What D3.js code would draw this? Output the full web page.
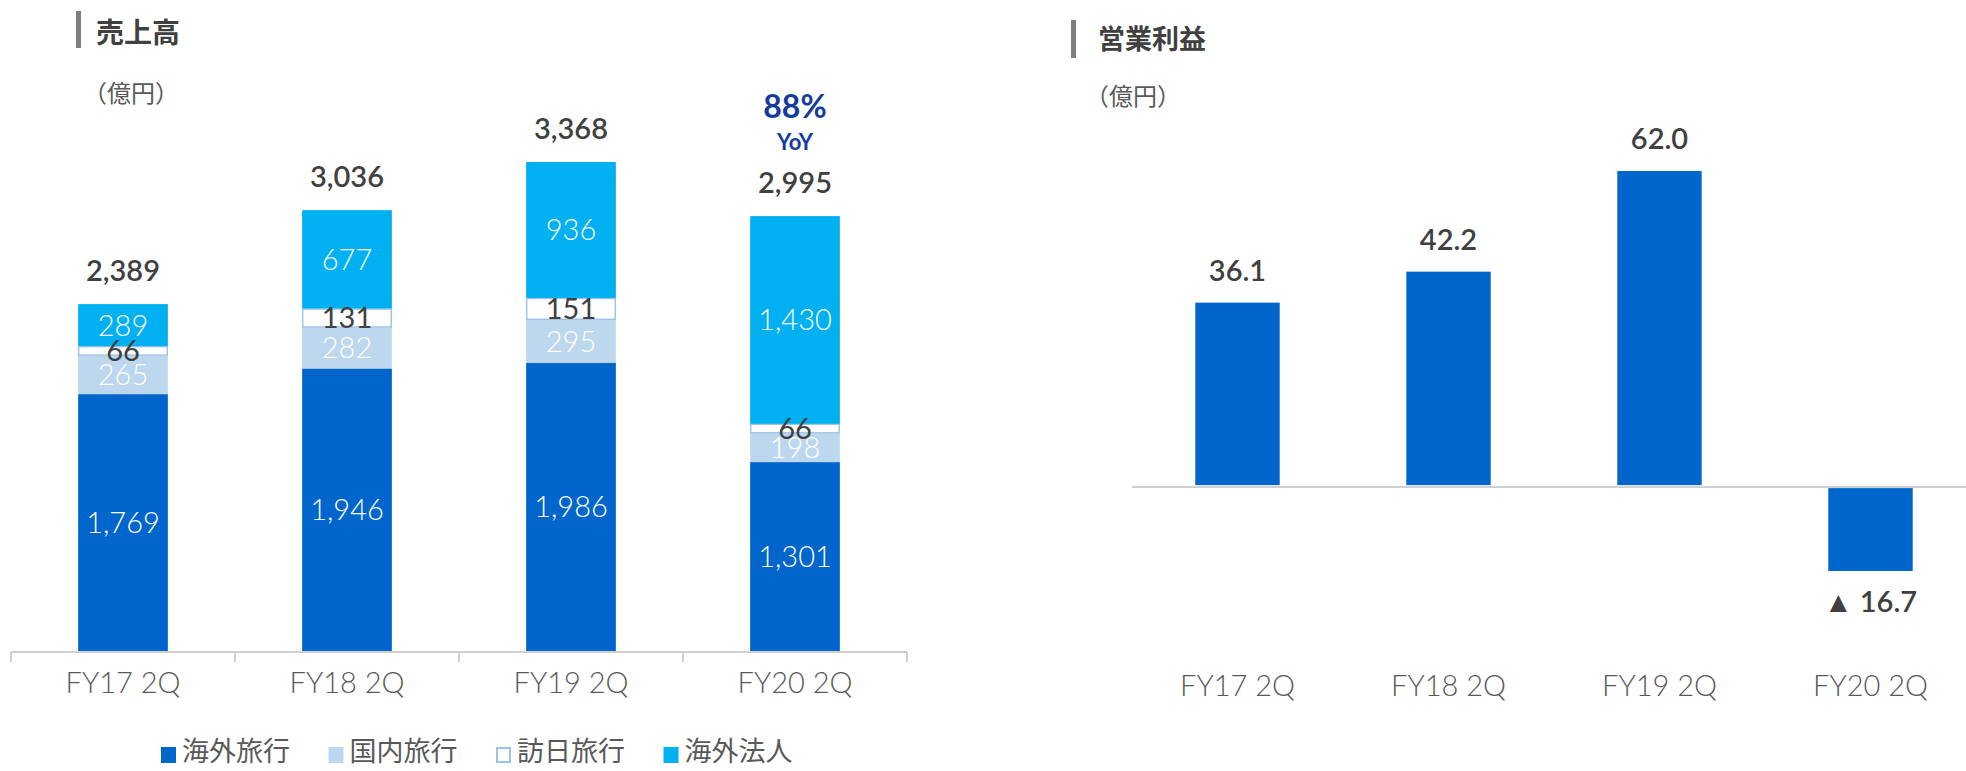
<!DOCTYPE html>
<html><head><meta charset="utf-8">
<script src="https://cdn.jsdelivr.net/npm/d3@7"></script>
<style>
html,body{margin:0;padding:0;background:#fff;}
svg{display:block;}
</style></head>
<body>
<svg id="chart" width="1966" height="771"></svg>
<script>
const categories = ["FY17 2Q","FY18 2Q","FY19 2Q","FY20 2Q"];
const seriesNames = ["海外旅行","国内旅行","訪日旅行","海外法人"];
const overseasTravel = [1769,1946,1986,1301];
const domesticTravel = [265,282,295,198];
const inboundTravel = [66,131,151,66];
const overseasCorp = [289,677,936,1430];
const salesTotals = [2389,3036,3368,2995];
const operatingProfit = [36.1,42.2,62.0,-16.7];
const yoyLabel = ["88%","YoY"];
const unitLabel = "（億円）";
const titles = ["売上高","営業利益"];

const svg = d3.select("#chart");
const LATIN = "Lato, 'Noto Sans', sans-serif";
const CJK = "'Noto Sans CJK JP', 'Noto Sans', sans-serif";
const colors = ["#0066CC","#BDD7EE","#FFFFFF","#00B0F0"];
const strokes = ["#0066CC","#BDD7EE","#9DC3E6","#00B0F0"];
const labelColors = ["#FFFFFF","#FFFFFF","#404040","#FFFFFF"];

// ---------- Titles ----------
function title(xBar, yTop, yBot, xText, yBase, txt, fs){
  svg.append("rect").attr("x",xBar).attr("y",yTop).attr("width",5).attr("height",yBot-yTop).attr("fill","#7F7F7F");
  svg.append("text").attr("x",xText).attr("y",yBase).text(txt)
    .attr("font-family",CJK).attr("font-weight",700).attr("font-size",fs).attr("fill","#404040");
}
title(76,11,48,96,43,titles[0],28);
title(1071,20,58,1098,49,titles[1],27);
svg.append("text").attr("x",83).attr("y",102).text(unitLabel)
  .attr("font-family",CJK).attr("font-size",24).attr("fill","#595959");
svg.append("text").attr("x",1085).attr("y",105).text(unitLabel)
  .attr("font-family",CJK).attr("font-size",24).attr("fill","#595959");

// ---------- Left: stacked sales ----------
const x1 = d3.scaleBand().domain(categories).range([11,907]).paddingInner(0.6).paddingOuter(0.3);
const y1 = d3.scaleLinear().domain([0,3368]).range([651,162]);
const rows = categories.map((c,i)=>({cat:c, 0:overseasTravel[i],1:domesticTravel[i],2:inboundTravel[i],3:overseasCorp[i]}));
const stack = d3.stack().keys([0,1,2,3])(rows);

const gL = svg.append("g");
stack.forEach((layer,k)=>{
  gL.selectAll(null).data(layer).enter().append("rect")
    .attr("x",d=>x1(d.data.cat)+0.5)
    .attr("width",x1.bandwidth()-1)
    .attr("y",d=>y1(d[1])+0.5)
    .attr("height",d=>y1(d[0])-y1(d[1])-1)
    .attr("fill",colors[k])
    .attr("stroke",strokes[k]).attr("stroke-width",k===2?1.5:1);
});
stack.forEach((layer,k)=>{
  gL.selectAll(null).data(layer).enter().append("text")
    .attr("x",d=>x1(d.data.cat)+x1.bandwidth()/2)
    .attr("y",d=>(y1(d[0])+y1(d[1]))/2)
    .attr("dy","0.36em")
    .attr("text-anchor","middle")
    .attr("font-family",LATIN).attr("font-weight",k===2?400:300).attr("font-size",29)
    .attr("fill",labelColors[k])
    .text(d=>d3.format(",")(d.data[k]));
});
// totals
gL.selectAll(null).data(categories).enter().append("text")
  .attr("x",c=>x1(c)+x1.bandwidth()/2)
  .attr("y",(c,i)=>y1(salesTotals[i])-23)
  .attr("text-anchor","middle")
  .attr("font-family",LATIN).attr("font-weight",600).attr("font-size",29).attr("fill","#404040")
  .text((c,i)=>d3.format(",")(salesTotals[i]));
// YoY annotation
const cx4 = x1(categories[3])+x1.bandwidth()/2;
svg.append("text").attr("x",cx4).attr("y",118).attr("text-anchor","middle")
  .attr("font-family",LATIN).attr("font-weight",700).attr("font-size",32).attr("fill","#143C9E").text(yoyLabel[0]);
svg.append("text").attr("x",cx4).attr("y",150).attr("text-anchor","middle")
  .attr("font-family",LATIN).attr("font-weight",700).attr("font-size",22).attr("fill","#143C9E").text(yoyLabel[1]);

// left axis
const axL = svg.append("g").attr("transform","translate(0,651)")
  .call(d3.axisBottom(x1).tickSize(0).tickPadding(0));
axL.select(".domain").remove();
axL.selectAll("text").attr("font-family",LATIN).attr("font-weight",300).attr("font-size",29).attr("fill","#595959")
  .attr("y",42).attr("dy",0);
svg.append("line").attr("x1",x1.range()[0]).attr("x2",x1.range()[1]).attr("y1",652).attr("y2",652)
  .attr("stroke","#D0D0D0").attr("stroke-width",2);
const bounds = categories.map(c=>x1(c)-x1.step()*0.3).concat([x1.range()[1]]);
svg.selectAll(null).data(bounds).enter().append("line")
  .attr("x1",d=>d).attr("x2",d=>d).attr("y1",652).attr("y2",662)
  .attr("stroke","#D0D0D0").attr("stroke-width",2);

// legend
const leg = svg.append("g");
seriesNames.forEach((n,k)=>{
  const lx = 161 + k*167.5;
  leg.append("rect").attr("x",lx+ (k===2?1:0)).attr("y",747+(k===2?1:0)).attr("width",k===2?13:15).attr("height",k===2?14:16)
    .attr("fill",colors[k]).attr("stroke",k===2?"#9DC3E6":"none").attr("stroke-width",2);
  leg.append("text").attr("x",lx+21).attr("y",761).text(n)
    .attr("font-family",CJK).attr("font-size",27).attr("fill","#595959");
});

// ---------- Right: operating profit ----------
const x2 = d3.scaleBand().domain(categories).range([1132,1976]).paddingInner(0.6).paddingOuter(0.3);
const y2 = d3.scaleLinear().domain([-16.7,62.0]).range([571,171]);
const gR = svg.append("g");
gR.selectAll(null).data(operatingProfit).enter().append("rect")
  .attr("x",(d,i)=>x2(categories[i]))
  .attr("width",x2.bandwidth())
  .attr("y",d=>d>=0?y2(d):y2(0)+2)
  .attr("height",d=>d>=0?y2(0)-y2(d)-1:y2(d)-y2(0)-2)
  .attr("fill","#0066CC");
svg.append("line").attr("x1",1132).attr("x2",1966).attr("y1",y2(0)+1).attr("y2",y2(0)+1)
  .attr("stroke","#D0D0D0").attr("stroke-width",2);
gR.selectAll(null).data(operatingProfit).enter().append("text")
  .attr("x",(d,i)=>x2(categories[i])+x2.bandwidth()/2)
  .attr("y",d=>d>=0?y2(d)-22:y2(d)+41)
  .attr("text-anchor","middle")
  .attr("font-family",LATIN).attr("font-weight",600).attr("font-size",29).attr("fill","#404040")
  .text(d=>d>=0?d3.format(".1f")(d):"▲ "+d3.format(".1f")(-d));
const axR = svg.append("g").attr("transform","translate(0,"+y2(0)+")")
  .call(d3.axisBottom(x2).tickSize(0).tickPadding(0));
axR.select(".domain").remove();
axR.selectAll("text").attr("font-family",LATIN).attr("font-weight",300).attr("font-size",29).attr("fill","#595959")
  .attr("y",210).attr("dy",0);
</script>
</body></html>
